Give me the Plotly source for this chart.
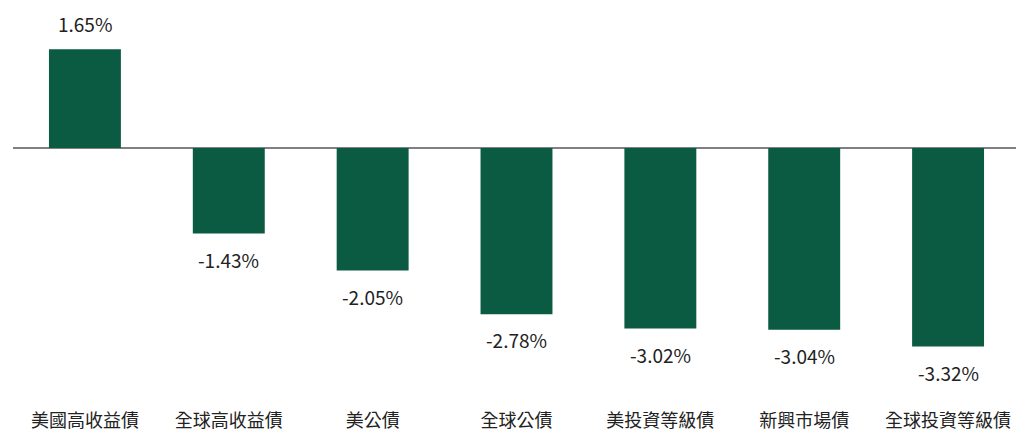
import plotly.graph_objects as go

categories = ["美國高收益債", "全球高收益債", "美公債", "全球公債", "美投資等級債", "新興市場債", "全球投資等級債"]
values = [1.65, -1.43, -2.05, -2.78, -3.02, -3.04, -3.32]
labels = ["1.65%", "-1.43%", "-2.05%", "-2.78%", "-3.02%", "-3.04%", "-3.32%"]

FONT = "Noto Sans CJK TC, Noto Sans, sans-serif"
BAR = "#0b5a42"

fig = go.Figure(go.Bar(x=categories, y=values, marker=dict(color=BAR, line=dict(width=0)),
                       hoverinfo="skip"))

for c, v, t in zip(categories, values, labels):
    fig.add_annotation(x=c, y=v, text=t, showarrow=False,
                       yanchor="bottom" if v >= 0 else "top",
                       yshift=10 if v >= 0 else -10,
                       font=dict(family=FONT, size=19, color="#222222"))

fig.update_layout(
    width=1016, height=429,
    margin=dict(l=5, r=4, t=2, b=37, autoexpand=False),
    paper_bgcolor="white", plot_bgcolor="white",
    bargap=0.5, showlegend=False,
    xaxis=dict(type="category", range=[-0.5, 6.5], showgrid=False, showline=False, ticks="",
               automargin=False, ticklabelstandoff=8,
               tickfont=dict(family=FONT, size=18, color="#222222")),
    yaxis=dict(range=[-4.214, 2.308], showgrid=False, showticklabels=False, showline=False,
               automargin=False,
               zeroline=True, zerolinecolor="#808080", zerolinewidth=1.5),
)

fig.write_html("out.html")
